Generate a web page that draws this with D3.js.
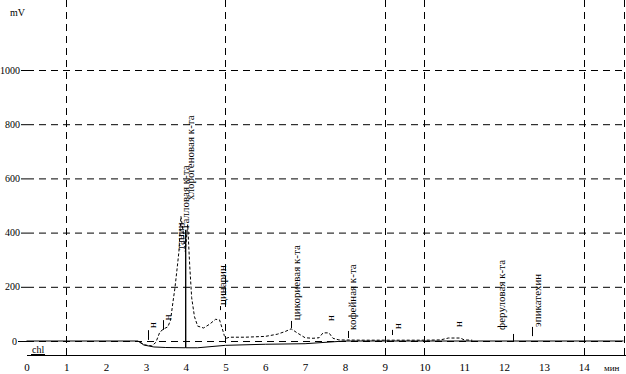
<!DOCTYPE html>
<html><head><meta charset="utf-8">
<script src="https://cdn.jsdelivr.net/npm/d3@7"></script>
<style>
html,body{margin:0;padding:0;background:#fff;}
svg{display:block;}
text{font-family:"Liberation Serif","DejaVu Serif",serif;fill:#000;}
</style></head><body>
<svg id="c" width="626" height="374"></svg>
<script>
// ---- data ----
const xTicks = [0,1,2,3,4,5,6,7,8,9,10,11,12,13,14];
const xGrid = [1,5,9,10,14,15];
const yTicks = [0,200,400,600,800,1000];

// dashed chromatogram trace (time min, mV)
const traceA_t = [2.85,3.0,3.15,3.25,3.35,3.45,3.55,3.62,3.68,3.73,3.78,3.83,3.88,3.94,3.99,4.05,4.1,4.15,4.22,4.3,4.45,4.6,4.75,4.85,4.92,4.97,5.02,5.1,5.5,6.0,6.3,6.5,6.65,6.8,7.0,7.2,7.35,7.45,7.6,7.7,7.85,8.5,9.0,10.0,10.4,10.6,10.9,11.0,11.2];
const traceA_v = [-5,-15,-18,-5,33,45,52,77,144,196,262,330,460,400,330,430,280,160,90,55,48,62,80,78,45,20,10,14,14,17,25,35,45,30,12,10,12,30,30,10,4,3,3,3,4,11,11,4,3];

// solid trace
const traceB_t = [0,2.8,2.95,3.2,3.5,3.995,4.0,4.005,4.3,5.0,6.0,7.0,7.5,8.0,15];
const traceB_v = [0,0,-15,-22,-24,-25,410,-25,-25,-16,-12,-10,-5,0,0];

// peak labels: time of text column, text, mV at text bottom
const labelT = [3.05,3.43,3.76,3.88,4.01,4.81,6.67,7.53,8.08,9.21,10.74,11.82,12.73];
const labelTxt = ["н","н","танин","галловая к-та","хлорогеновая к-та","цинарин","цикориевая к-та","н","кофейная к-та","н","н","феруловая к-та","эпикатехин"];
const labelV = [48,77,336,417,520,133,77,74,41,44,52,41,52];

// label ticks: time, top mV, bottom mV
const tickT = [3.05,3.43,4.86,6.65,8.08,9.18,12.22,12.7];
const tickTop = [40,77,129,74,37,41,26,52];
const tickBot = [4,41,114,48,11,22,0,18];

// ---- drawing ----
const svg = d3.select("#c");
const x = d3.scaleLinear().domain([0,15]).range([26.5,623.5]);
const y = d3.scaleLinear().domain([0,1000]).range([341,70]);

// horizontal dashed gridlines
svg.selectAll("line.hg").data(yTicks).join("line")
  .attr("x1",27).attr("x2",626)
  .attr("y1",d=>y(d)+0.5).attr("y2",d=>y(d)+0.5)
  .attr("stroke","#000").attr("stroke-width",1).attr("stroke-dasharray","7,5");
// vertical dashed gridlines
svg.selectAll("line.vg").data(xGrid).join("line")
  .attr("x1",d=>Math.round(x(d))+0.5).attr("x2",d=>Math.round(x(d))+0.5)
  .attr("y1",0).attr("y2",360)
  .attr("stroke","#000").attr("stroke-width",1).attr("stroke-dasharray","7,5");

// y axis labels with small dash ticks
const yAxis = svg.append("g");
yAxis.selectAll("text").data(yTicks).join("text")
  .attr("x",d=> d===0?17:20).attr("y",d=>y(d)+3.5)
  .attr("text-anchor","end").attr("font-size",10).text(d=>d);
yAxis.selectAll("line").data(yTicks).join("line")
  .attr("x1",d=>d===0?18:21).attr("x2",27).attr("y1",d=>y(d)+0.5).attr("y2",d=>y(d)+0.5)
  .attr("stroke","#000");
svg.append("text").attr("x",10).attr("y",16).attr("font-size",10).text("mV");

// chl line
svg.append("line").attr("x1",27).attr("x2",626).attr("y1",355.5).attr("y2",355.5).attr("stroke","#000");
svg.append("text").attr("x",32).attr("y",353).attr("font-size",10).text("chl");
svg.append("line").attr("x1",31).attr("x2",45).attr("y1",354.5).attr("y2",354.5).attr("stroke","#000");

// x axis labels
svg.selectAll("text.xt").data(xTicks).join("text").attr("class","xt")
  .attr("x",d=>x(d)+0.5).attr("y",371).attr("text-anchor","middle").attr("font-size",11).text(d=>d);
svg.append("text").attr("x",604).attr("y",371).attr("font-size",9).text("мин");

// traces
const line = d3.line().x(d=>x(d[0])).y(d=>y(d[1]));
svg.append("path").datum(traceB_t.map((t,i)=>[t,traceB_v[i]]))
  .attr("d",line).attr("fill","none").attr("stroke","#000").attr("stroke-width",1);
svg.append("path").datum(traceA_t.map((t,i)=>[t,traceA_v[i]]))
  .attr("d",line).attr("fill","none").attr("stroke","#000").attr("stroke-width",1).attr("stroke-dasharray","3,2");

// label ticks
svg.selectAll("line.tk").data(tickT).join("line")
  .attr("x1",d=>Math.round(x(d))+0.5).attr("x2",d=>Math.round(x(d))+0.5)
  .attr("y1",(d,i)=>y(tickTop[i])).attr("y2",(d,i)=>y(tickBot[i]))
  .attr("stroke","#000");

// peak labels (rotated)
svg.selectAll("text.pl").data(labelT).join("text")
  .attr("transform",(d,i)=>`translate(${Math.round(x(d))+8},${y(labelV[i])}) rotate(-90)`)
  .attr("font-size",11).attr("font-family","DejaVu Sans Condensed, sans-serif")
  .text((d,i)=>labelTxt[i]);
</script></body></html>
